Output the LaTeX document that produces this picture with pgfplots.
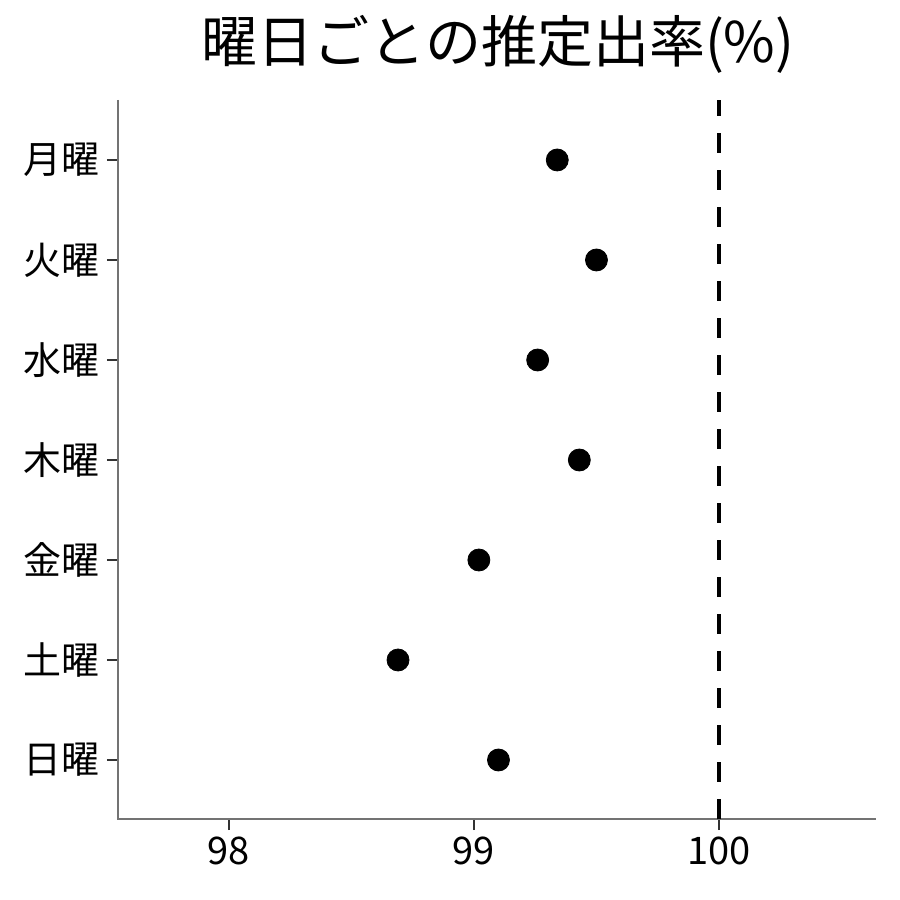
\documentclass[border=0pt]{standalone}
\usepackage{fontspec}
\setmainfont{Noto Sans CJK JP}
\usepackage{pgfplots}
\pgfplotsset{compat=1.18}
\begin{document}
\begin{tikzpicture}
\useasboundingbox (0,0) rectangle (450bp,450bp);
\begin{axis}[
  at={(59bp,40.5bp)}, anchor=south west,
  scale only axis, width=379bp, height=359.5bp,
  xmin=97.547, xmax=100.641, ymin=0.41, ymax=7.6,
  axis line style={draw=none},
  xtick pos=bottom, ytick pos=left,
  xtick={98,99,100}, ytick={1,2,3,4,5,6,7},
  yticklabels={日曜,土曜,金曜,木曜,水曜,火曜,月曜},
  tick align=outside, major tick length=5.5bp,
  tick style={draw=black!80, line width=1.4bp},
  ticklabel style={font=\fontsize{19bp}{22bp}\selectfont},
  /pgf/number format/assume math mode=true,
  clip=false,
]
% axis spines: left and bottom
\draw[black!55, line width=0.6bp] (rel axis cs:0,1) -- (rel axis cs:0,0) -- (rel axis cs:1,0);
\addplot[black, line width=1.8bp, dash pattern=on 10bp off 8.5bp]
  coordinates {(100,0.41) (100,7.6)};
\addplot[only marks, mark=*, mark size=5.5bp, black] coordinates {
  (99.34,7)
  (99.50,6)
  (99.26,5)
  (99.43,4)
  (99.02,3)
  (98.69,2)
  (99.10,1)
};
\end{axis}
\node[font=\fontsize{28bp}{32bp}\selectfont] at (249bp,428bp) {曜日ごとの推定出率(\%)};
\end{tikzpicture}
\end{document}
